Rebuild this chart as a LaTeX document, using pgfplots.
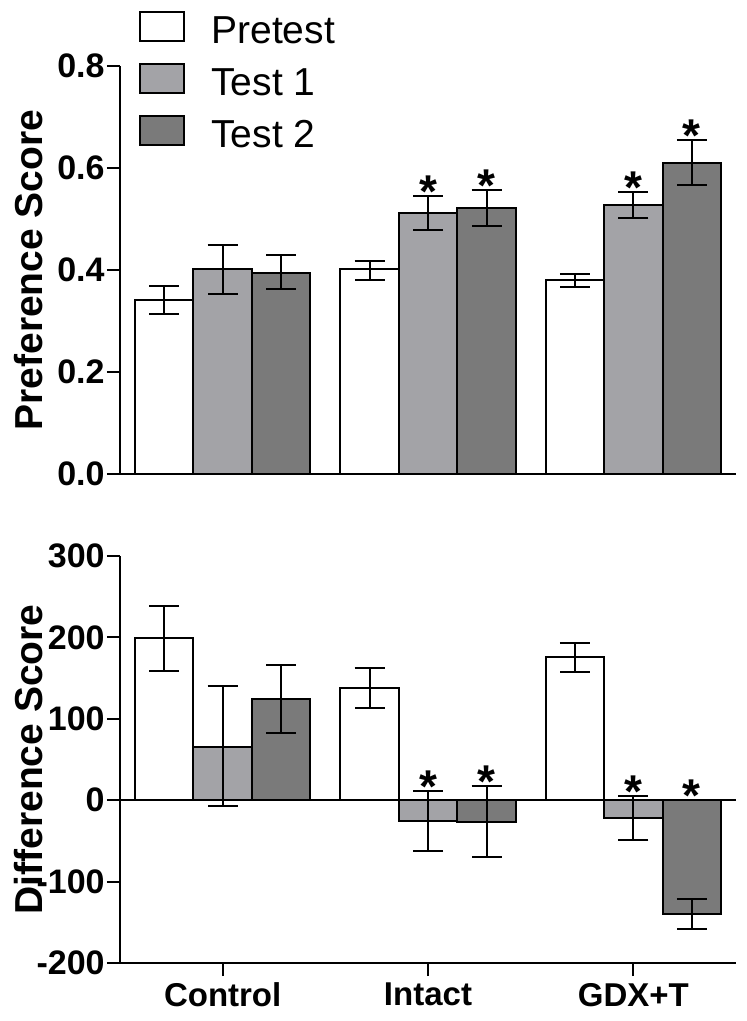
\documentclass[border=0pt]{standalone}
\usepackage{fontspec}
\setmainfont{Liberation Sans}
\usepackage{pgfplots}
\pgfplotsset{compat=1.18}
\usepackage{pgfplotstable}
\definecolor{tone}{RGB}{163,163,167}
\definecolor{ttwo}{RGB}{122,122,122}

\pgfplotstableread{
x y ep em
0 0.341 0.028 0.028
1 0.401 0.017 0.020
2 0.380 0.012 0.013
}\toppre
\pgfplotstableread{
x y ep em
0 0.402 0.048 0.049
1 0.512 0.033 0.034
2 0.527 0.025 0.026
}\topone
\pgfplotstableread{
x y ep em
0 0.395 0.034 0.033
1 0.522 0.034 0.036
2 0.610 0.044 0.044
}\toptwo
\pgfplotstableread{
x y ep em
0 199.0 40.0 40.0
1 137.6 24.5 24.5
2 175.5 18.0 18.5
}\botpre
\pgfplotstableread{
x y ep em
0 65.7 74.0 73.0
1 -26.0 37.0 37.0
2 -22.4 27.0 27.0
}\botone
\pgfplotstableread{
x y ep em
0 124.0 42.0 42.0
1 -26.5 43.5 43.5
2 -140.0 18.5 18.5
}\bottwo

\newcommand{\lrule}{\rule[-7pt]{0pt}{25.5pt}}
\tikzset{
  mystar/.style={font=\fontsize{23}{23}\selectfont\bfseries, anchor=base, yshift=-5.6pt, inner sep=0pt},
}
\pgfplotsset{
  myaxis/.style={
    scale only axis, width=308pt,
    xmin=-0.5, xmax=2.5,
    axis x line*=bottom, axis y line*=left,
    ybar=0pt, bar width=29.25pt,
    clip=false,
    axis line style={line width=1pt, black},
    every tick/.style={black, line width=1pt},
    major tick length=6.5pt,
    tick align=outside,
    /pgf/number format/assume math mode=true,
    yticklabel style={font=\fontsize{17}{18}\selectfont\bfseries, inner sep=1pt},
    xticklabel style={font=\fontsize{16.5}{18}\selectfont\bfseries},
    ylabel style={font=\fontsize{19.5}{22}\selectfont\bfseries,
      at={(axis description cs:-0.1477,0.5)}, anchor=center},
    error bars/y dir=both, error bars/y explicit,
    error bars/error bar style={line width=1pt, black},
    error bars/error mark options={rotate=90, mark size=7.5pt, line width=1pt, black},
  },
  leg/.style={legend image code/.code={\draw[##1, line width=1pt] (0pt,-7.25pt) rectangle (22pt,7.25pt);}},
}

\begin{document}
\begin{tikzpicture}
\begin{axis}[myaxis,
  at={(0,0)}, anchor=south west,
  height=204pt,
  ymin=0, ymax=0.8,
  ytick={0,0.2,0.4,0.6,0.8},
  yticklabels={0.0,0.2,0.4,0.6,0.8},
  xtick=\empty,
  ylabel={Preference Score},
  legend style={at={(axis description cs:0.0308,1.148)}, anchor=north west,
    draw=none, fill=none, inner sep=0pt, row sep=6pt,
    font=\fontsize{19.5}{23}\selectfont,
    nodes={inner sep=0pt}},
  legend cell align=left,
  legend style={column sep=13pt},
]
\addplot[leg, fill=white, draw=black, line width=1pt] table[x=x,y=y,y error plus=ep,y error minus=em]{\toppre};
\addplot[leg, fill=tone, draw=black, line width=1pt] table[x=x,y=y,y error plus=ep,y error minus=em]{\topone};
\addplot[leg, fill=ttwo, draw=black, line width=1pt] table[x=x,y=y,y error plus=ep,y error minus=em]{\toptwo};
\legend{\lrule Pretest, \lrule Test 1, \lrule Test 2}
\node[mystar] at (axis cs:1,0.545) {*};
\node[mystar] at (axis cs:1.284,0.556) {*};
\node[mystar] at (axis cs:2,0.552) {*};
\node[mystar] at (axis cs:2.284,0.654) {*};
\end{axis}

\begin{axis}[myaxis,
  at={(0,-41pt)}, anchor=north west,
  height=203.5pt,
  ymin=-200, ymax=300,
  ytick={-200,-100,0,100,200,300},
  yticklabels={-200,-100,0,100,200,300},
  xtick={0,1,2},
  xticklabels={Control,Intact,GDX+T},
  ylabel={Difference Score},
]
\addplot[fill=white, draw=black, line width=1pt] table[x=x,y=y,y error plus=ep,y error minus=em]{\botpre};
\addplot[fill=tone, draw=black, line width=1pt] table[x=x,y=y,y error plus=ep,y error minus=em]{\botone};
\addplot[fill=ttwo, draw=black, line width=1pt] table[x=x,y=y,y error plus=ep,y error minus=em]{\bottwo};
\draw[line width=1pt] (axis cs:-0.5,0) -- (axis cs:2.5,0);
\node[mystar] at (axis cs:1,11) {*};
\node[mystar] at (axis cs:1.284,17) {*};
\node[mystar] at (axis cs:2,4.5) {*};
\node[mystar] at (axis cs:2.284,0) {*};
\end{axis}
\pgfresetboundingbox
\path (-60pt,237pt) rectangle (313.5pt,-273.5pt);
\end{tikzpicture}
\end{document}
